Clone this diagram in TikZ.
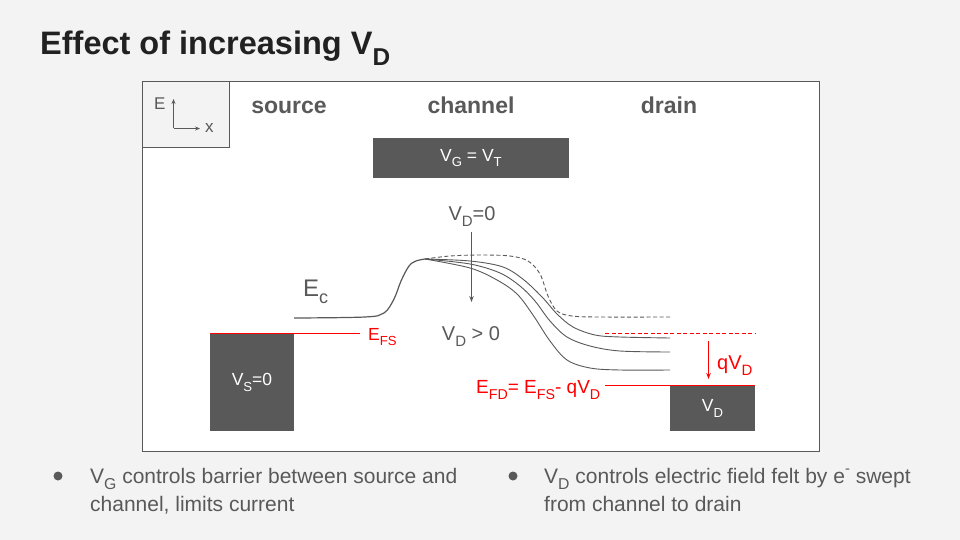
\documentclass[tikz,border=0pt]{standalone}
\usepackage{fontspec}
\setmainfont{Liberation Sans}
\usetikzlibrary{arrows.meta}
\definecolor{dg}{HTML}{595959}
\definecolor{bgc}{HTML}{F3F3F3}
\definecolor{ttl}{HTML}{212121}
\definecolor{rd}{HTML}{FF0000}
\newcommand\dn[1]{\raisebox{-0.33em}{\scalebox{0.75}{#1}}}
\newcommand\upm[1]{\raisebox{0.45em}{\scalebox{0.7}{#1}}}
\newcommand\fs[1]{\fontsize{#1}{#1}\selectfont}
\tikzset{
  darkbox/.style={fill=dg, draw=none, text=white, inner sep=0pt},
  lbl/.style={inner sep=0pt, text=dg},
  rlbl/.style={inner sep=0pt, text=rd},
  redline/.style={draw=rd, line width=1pt},
  band/.style={draw=dg, line width=0.9pt, smooth, tension=0.55},
  dashband/.style={band, dash pattern=on 4pt off 2.5pt},
  tip/.style={-{Stealth[length=6pt,width=4.5pt]}},
}
\begin{document}
\begin{tikzpicture}[x=1pt,y=-1pt]
\fill[bgc] (0,0) rectangle (960,540);
\useasboundingbox (0,0) rectangle (960,540);

% title
\node[inner sep=0pt, anchor=base west, text=ttl, font=\bfseries\fs{32.5}] (title) at (40,55) {Effect of increasing V\dn{D}};

% frame
\node[draw=dg, line width=1pt, fill=white, minimum width=677pt, minimum height=369pt, anchor=north west, inner sep=0pt] (frame) at (141.5,81.5) {};
\node[draw=dg, line width=1pt, fill=bgc, minimum width=87pt, minimum height=66pt, anchor=north west, inner sep=0pt] (axbox) at (141.5,81.5) {};

% axes
\coordinate (o) at (173.5,128.5);
\coordinate (ytop) at (173.5,99);
\coordinate (xend) at (200,128.5);
\draw[dg, line width=1pt, -{Stealth[length=5pt,width=4pt]}] (o) -- (ytop);
\draw[dg, line width=1pt, -{Stealth[length=5pt,width=4pt]}] (o) -- (xend);
\node[lbl, anchor=base west, font=\fs{17}] (elab) at (154,110) {E};
\node[lbl, anchor=base west, font=\fs{17}] (xlab) at (205,133) {x};

% region labels
\node[lbl, anchor=base, font=\bfseries\fs{23}] (src) at (289,114) {source};
\node[lbl, anchor=base, font=\bfseries\fs{23}] (chn) at (471,114) {channel};
\node[lbl, anchor=base, font=\bfseries\fs{23}] (drn) at (669,114) {drain};

% gate
\node[darkbox, minimum width=196pt, minimum height=40pt, font=\fs{17.5}] (gate) at (471,158) {V\dn{G} = V\dn{T}};

% source and drain contacts
\node[darkbox, minimum width=84pt, minimum height=97pt, font=\fs{17.5}] (sbox) at (252,382.5) {V\dn{S}=0};
\node[darkbox, minimum width=85pt, minimum height=45pt, font=\fs{17.5}] (dbox) at (712.5,408.5) {V\dn{D}};

% Fermi levels
\coordinate (efs0) at (210,333.5);
\coordinate (efs1) at (360,333.5);
\draw[redline] (efs0) -- (efs1);
\node[rlbl, anchor=base west, font=\fs{17.5}] (efs) at (368,340) {E\dn{FS}};
\coordinate (efd0) at (605,385.5);
\coordinate (efd1) at (755,385.5);
\draw[redline] (efd0) -- (efd1);
\coordinate (ref0) at (605,333.5);
\coordinate (ref1) at (755,333.5);
\draw[redline, dash pattern=on 4pt off 2.5pt] (ref0) -- (ref1);
\node[rlbl, anchor=base west, font=\fs{19}] (efdl) at (476,393) {E\dn{FD}= E\dn{FS}- qV\dn{D}};

% qVD arrow
\coordinate (q0) at (708.5,341);
\coordinate (q1) at (708.5,379);
\draw[redline, tip] (q0) -- (q1);
\node[rlbl, anchor=base west, font=\fs{20}] (qvd) at (717,369) {qV\dn{D}};

% conduction band
\draw[band, line width=1.2pt] plot coordinates {(294,318) (365,317) (384,313) (394,299) (401,281) (409,266) (416,261) (425,259)};
\draw[dashband] plot coordinates {(425,259) (450,256) (480,255) (510,256) (528,261) (540,274) (548,296) (557,311) (572,316) (600,317) (670,317)};
\draw[band] plot coordinates {(425,259) (470,261) (503,267) (524,280) (543,298) (557,314) (573,327) (595,335) (620,337) (670,338)};
\draw[band] plot coordinates {(425,259) (470,264) (500,273) (520,286) (535,301) (550,321) (567,337) (590,346) (620,351) (670,352)};
\draw[band] plot coordinates {(425,259) (470,268) (497,280) (517,294) (533,315) (550,341) (567,360) (590,368) (620,370) (670,370)};

% band labels
\node[lbl, anchor=base west, font=\fs{24}] (ec) at (303,296) {E\dn{c}};
\node[lbl, anchor=base, font=\fs{20}] (vd0) at (472,220) {V\dn{D}=0};
\node[lbl, anchor=base, font=\fs{20}] (vdp) at (471,340) {V\dn{D} > 0};
\coordinate (vdarr) at (471.5,302);
\draw[dg, line width=1pt, tip] (vdarr |- 0,232) -- (vdarr);

% bullets
\fill[dg] (58,476) circle (4.5pt);
\node[lbl, anchor=base west, font=\fs{21}] (b1a) at (90,483) {V\dn{G} controls barrier between source and};
\node[lbl, anchor=base west, font=\fs{21}] (b1b) at (90,511) {channel, limits current};
\fill[dg] (513,476) circle (4.5pt);
\node[lbl, anchor=base west, font=\fs{21}] (b2a) at (544,483) {V\dn{D} controls electric field felt by e\upm{-} swept};
\node[lbl, anchor=base west, font=\fs{21}] (b2b) at (544,511) {from channel to drain};
\end{tikzpicture}
\end{document}
